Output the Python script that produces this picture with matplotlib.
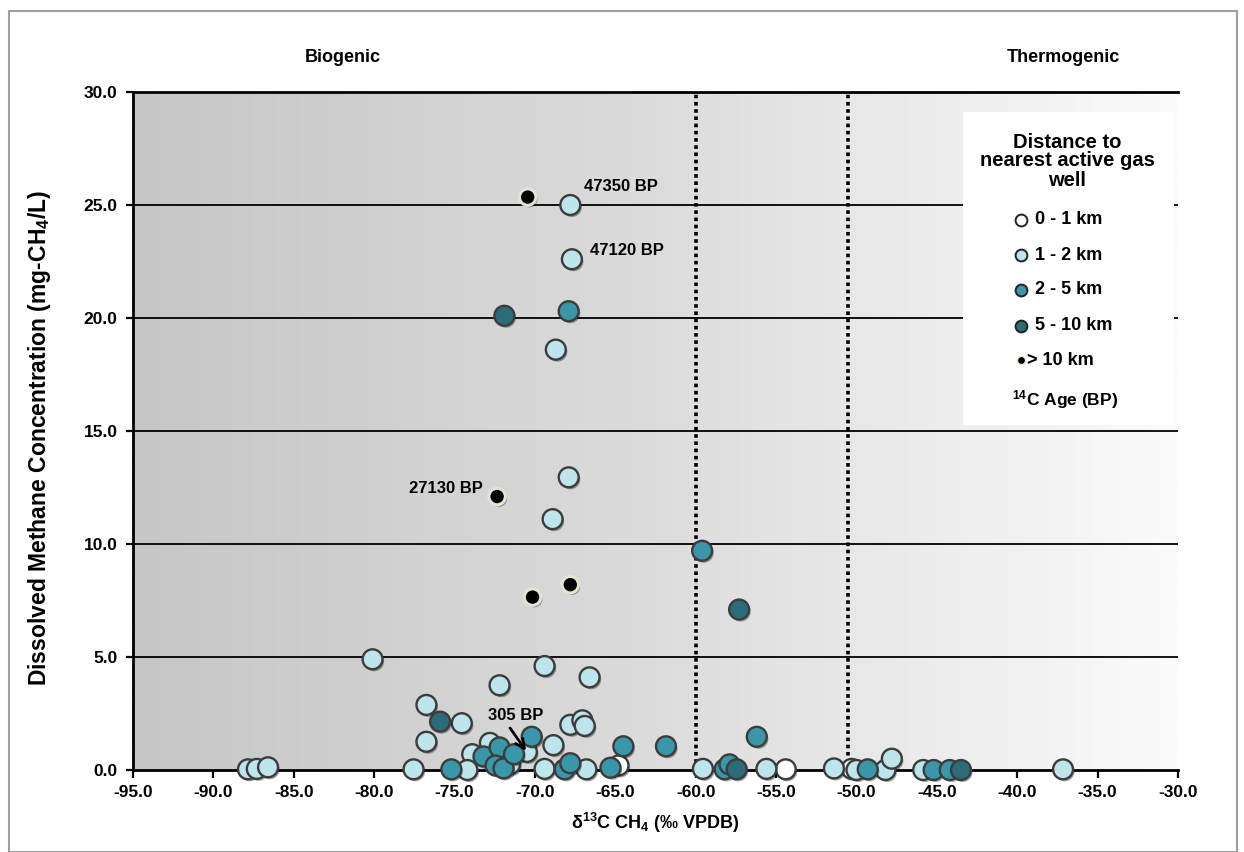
import numpy as np
import matplotlib
matplotlib.use('Agg')
import matplotlib.pyplot as plt
from matplotlib.colors import LinearSegmentedColormap
from matplotlib.patches import Rectangle
import matplotlib.patheffects as pe

plt.rcParams['font.family'] = ['Liberation Sans', 'DejaVu Sans']
plt.rcParams['font.weight'] = 'bold'
plt.rcParams['mathtext.fontset'] = 'custom'
plt.rcParams['mathtext.rm'] = 'Liberation Sans:bold'
plt.rcParams['mathtext.bf'] = 'Liberation Sans:bold'
plt.rcParams['mathtext.it'] = 'Liberation Sans:bold'
plt.rcParams['mathtext.default'] = 'bf'

# ---------------- data ----------------
categories = ['0 - 1 km', '1 - 2 km', '2 - 5 km', '5 - 10 km', '> 10 km']

x_0_1 = [-64.8, -54.4, -50.3]
y_0_1 = [0.2, 0.03, 0.05]

x_1_2 = [-67.8, -67.7, -68.7, -67.9, -68.9, -80.1, -69.4, -66.6, -72.2,
         -76.75, -74.55, -76.75, -67.8, -67.05, -66.9, -72.8, -73.9, -70.5,
         -68.85, -71.55, -87.85, -87.3, -86.6, -77.55, -74.2, -69.4, -66.8,
         -59.55, -55.6, -51.4, -50.0, -48.2, -47.8, -45.85, -37.15]
y_1_2 = [25.0, 22.6, 18.6, 12.95, 11.1, 4.9, 4.6, 4.1, 3.75,
         2.88, 2.07, 1.25, 2.0, 2.2, 1.95, 1.2, 0.7, 0.8,
         1.1, 0.25, 0.03, 0.05, 0.12, 0.03, 0.0, 0.05, 0.03,
         0.05, 0.05, 0.07, 0.0, 0.0, 0.5, 0.0, 0.03]

x_2_5 = [-67.9, -59.6, -56.2, -75.2, -73.2, -72.2, -72.45, -71.95, -71.3,
         -70.2, -68.15, -67.8, -65.3, -64.5, -61.85, -58.2, -57.9, -49.3,
         -45.2, -44.2]
y_2_5 = [20.3, 9.7, 1.47, 0.03, 0.6, 1.0, 0.2, 0.07, 0.7,
         1.47, 0.03, 0.3, 0.1, 1.05, 1.05, 0.03, 0.25, 0.03,
         0.0, 0.0]

x_5_10 = [-71.9, -57.3, -75.9, -57.45, -43.5]
y_5_10 = [20.1, 7.1, 2.14, 0.03, 0.0]

x_gt10 = [-70.45, -72.35, -70.15, -67.8]
y_gt10 = [25.35, 12.1, 7.65, 8.2]

age_labels = ['47350 BP', '47120 BP', '27130 BP', '305 BP']
age_text_x = [-66.95, -66.6, -73.25, -71.2]
age_text_y = [25.8, 23.0, 12.45, 2.4]
arrow_tail = (-71.55, 1.86)
arrow_head = (-70.55, 0.85)

xticks = [-95.0, -90.0, -85.0, -80.0, -75.0, -70.0, -65.0, -60.0, -55.0,
          -50.0, -45.0, -40.0, -35.0, -30.0]
yticks = [0.0, 5.0, 10.0, 15.0, 20.0, 25.0, 30.0]
boundaries = [-60.0, -50.5]

# ---------------- styles ----------------
fills = ['#FFFFFF', '#BEE4EC', '#3A97A9', '#2A6C78', '#000000']
edges = ['#3C3C3C', '#3C3C3C', '#3C3C3C', '#3C3C3C', '#E6E2D4']
W, H = 1244, 852
fig = plt.figure(figsize=(W / 100, H / 100), dpi=100)
ax = fig.add_axes([133 / W, 1 - 770 / H, 1045 / W, 678 / H])

# background gradient
cmap = LinearSegmentedColormap.from_list('bg', ['#C6C6C6', '#DCDCDC', '#FBFBFB'])
ax.imshow(np.linspace(0, 1, 512).reshape(1, -1), cmap=cmap, aspect='auto',
          extent=[-95, -30, 0, 30], zorder=0, interpolation='bilinear')

ax.set_xlim(-95, -30)
ax.set_ylim(0, 30)

for yv in yticks[1:-1]:
    ax.axhline(yv, color='black', lw=1.3, zorder=1)
for xb in boundaries:
    ax.axvline(xb, color='black', lw=2.6, ls=(0, (1, 1)), zorder=1)

shadow = [pe.SimplePatchShadow(offset=(1.2, -1.5), shadow_rgbFace='black', alpha=0.35), pe.Normal()]

series = [(x_0_1, y_0_1, 0), (x_1_2, y_1_2, 1), (x_2_5, y_2_5, 2),
          (x_5_10, y_5_10, 3), (x_gt10, y_gt10, 4)]
for xs, ys, i in series:
    size = 140 if i == 4 else 205
    lw = 2.2 if i == 4 else 1.7
    sc = ax.scatter(xs, ys, s=size, c=fills[i], edgecolors=edges[i], linewidths=lw,
                    zorder=3 + i, clip_on=False)
    sc.set_path_effects(shadow)

# annotations
fs_ann = 12
ax.text(age_text_x[0], age_text_y[0], age_labels[0], ha='left', va='center', fontsize=fs_ann, fontweight='bold', zorder=10)
ax.text(age_text_x[1], age_text_y[1], age_labels[1], ha='left', va='center', fontsize=fs_ann, fontweight='bold', zorder=10)
ax.text(age_text_x[2], age_text_y[2], age_labels[2], ha='right', va='center', fontsize=fs_ann, fontweight='bold', zorder=10)
ax.text(age_text_x[3], age_text_y[3], age_labels[3], ha='center', va='center', fontsize=fs_ann, fontweight='bold', zorder=12)
ax.annotate('', xy=arrow_head, xytext=arrow_tail, zorder=12,
            arrowprops=dict(arrowstyle='->', color='black', lw=2.0, mutation_scale=16,
                            shrinkA=0, shrinkB=0))

# axes styling
for side in ['top', 'left', 'bottom']:
    ax.spines[side].set_linewidth(2.0)
    ax.spines[side].set_color('black')
    ax.spines[side].set_zorder(2)
ax.spines['right'].set_visible(False)

ax.set_xticks(xticks)
ax.set_xticklabels([f'{v:.1f}' for v in xticks])
ax.set_yticks(yticks)
ax.set_yticklabels([f'{v:.1f}' for v in yticks])
ax.tick_params(axis='x', direction='out', length=6, width=1.6, labelsize=12.5, pad=5)
ax.tick_params(axis='y', direction='out', length=5, width=1.6, labelsize=12.5, pad=6)
for lab in ax.get_xticklabels() + ax.get_yticklabels():
    lab.set_fontweight('bold')

ax.set_xlabel(r'δ$^{13}$C CH$_4$ (‰ VPDB)', fontsize=13, fontweight='bold', labelpad=8)
ax.set_ylabel(r'Dissolved Methane Concentration (mg-CH$_4$/L)', fontsize=16.5,
              fontweight='bold')
ax.yaxis.set_label_coords((53 - 133) / 1045, 0.49)

# region labels
fig.text(343 / W, 1 - 57 / H, 'Biogenic', ha='center', va='center', fontsize=13, fontweight='bold')
fig.text(1063 / W, 1 - 57 / H, 'Thermogenic', ha='center', va='center', fontsize=13, fontweight='bold')

# legend (manual)
def ax_frac(px, py):
    return ((px - 133) / 1045, (770 - py) / 678)

x0, y0 = ax_frac(963, 425)
x1, y1 = ax_frac(1174, 112)
ax.add_patch(Rectangle((x0, y0), x1 - x0, y1 - y0, transform=ax.transAxes,
                       facecolor='white', edgecolor='none', zorder=20, clip_on=False))
tx, ty = ax_frac(1067, 161)
ax.text(tx, ty, 'Distance to\nnearest active gas\nwell', transform=ax.transAxes,
        ha='center', va='center', fontsize=14.5, fontweight='bold', linespacing=1.0, zorder=21)
entry_y = [220, 255, 290, 326, 360]
for i, cat in enumerate(categories):
    mx, my = ax_frac(1021, entry_y[i])
    s = 34 if i == 4 else 72
    ax.scatter([mx], [my], s=s, c=fills[i], edgecolors=('#E6E2D4' if i == 4 else '#222222'),
               linewidths=1.0 if i == 4 else 1.4, transform=ax.transAxes, zorder=22, clip_on=False)
    lx, ly = ax_frac(1035 if i < 4 else 1027, entry_y[i])
    ax.text(lx, ly, cat, transform=ax.transAxes, ha='left', va='center',
            fontsize=13, fontweight='bold', zorder=22)
cx, cy = ax_frac(1065, 400)
ax.text(cx, cy, r'$^{14}$C Age (BP)', transform=ax.transAxes, ha='center', va='center',
        fontsize=12.5, fontweight='bold', zorder=22)

# outer border
fig.patches.append(Rectangle((9 / W, 0), (1237 - 9) / W, 1 - 11 / H, transform=fig.transFigure,
                             facecolor='none', edgecolor='#A0A0A0', lw=1.5))

fig.savefig('out.png', dpi=100)
